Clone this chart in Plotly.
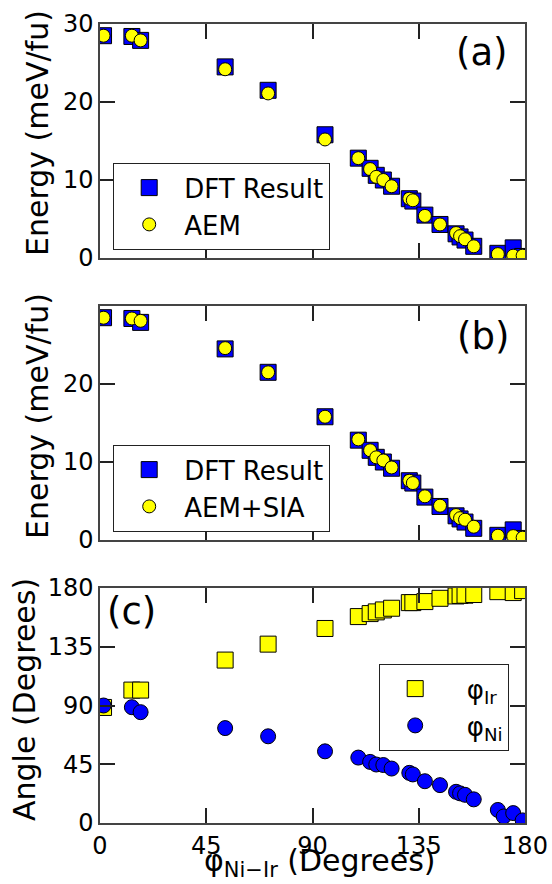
import plotly.graph_objects as go

# ---------------- data ----------------
phi = [1.5, 13.5, 17.2, 53.0, 71.2, 95.3, 109.4, 114.4, 117.0, 120.0, 123.5,
       131.0, 132.5, 137.6, 144.0, 150.8, 152.5, 154.6, 158.3, 168.5, 175.0, 179.0]
dft = [28.5, 28.4, 27.9, 24.5, 21.5, 15.8, 12.8, 11.5, 10.6, 10.0, 9.2,
       7.6, 7.3, 5.5, 4.3, 3.1, 2.7, 2.3, 1.5, 0.6, 1.3, 0.2]
aem = [28.5, 28.5, 27.9, 24.2, 21.1, 15.2, 12.8, 11.4, 10.4, 10.0, 9.2,
       7.6, 7.4, 5.4, 4.3, 3.2, 2.8, 2.4, 1.5, 0.5, 0.3, 0.3]
aem_sia = [28.5, 28.4, 28.1, 24.6, 21.5, 15.8, 12.9, 11.5, 10.6, 10.2, 9.3,
           7.6, 7.3, 5.6, 4.4, 3.2, 2.8, 2.6, 1.7, 0.55, 0.5, 0.3]

phi_ir = [88.5, 101.8, 101.8, 124.8, 137.0, 149.0, 158.1, 160.4, 161.7, 163.2, 164.5,
          168.8, 168.8, 169.6, 172.1, 173.9, 174.3, 174.5, 175.0, 177.2, 176.5, 178.0]
phi_ni_x = [1.5, 13.5, 17.2, 53.0, 71.2, 95.3, 109.4, 114.4, 117.0, 120.0, 123.5,
            131.0, 132.5, 137.6, 144.0, 150.8, 152.5, 154.6, 158.3, 168.5, 171.0, 175.0, 179.0]
phi_ni = [90.0, 88.7, 84.9, 72.7, 66.4, 54.9, 50.1, 46.8, 44.8, 44.4, 41.7,
          38.4, 37.2, 32.0, 29.0, 23.9, 22.7, 21.6, 18.1, 10.0, 5.0, 7.6, 2.0]

x_ticks = [0, 45, 90, 135, 180]
e_ticks = [0, 10, 20, 30]
e_ticks_b = ["0", "10", "20", ""]
a_ticks = [0, 45, 90, 135, 180]

# ---------------- style ----------------
W, H = 552, 884
FONT = "DejaVu Sans"
BLUE = "#0000ff"
YELLOW = "#ffff00"
SP = "\u00a0\u00a0"

fig = go.Figure()

def sq(x, y, name, xa, ya, leg, color, size=16):
    return go.Scatter(x=x, y=y, mode="markers", name=name, xaxis=xa, yaxis=ya, legend=leg,
                      marker=dict(symbol="square", size=size, color=color,
                                  line=dict(color="black", width=1)))

def ci(x, y, name, xa, ya, leg, color, size=13):
    return go.Scatter(x=x, y=y, mode="markers", name=name, xaxis=xa, yaxis=ya, legend=leg,
                      marker=dict(symbol="circle", size=size, color=color,
                                  line=dict(color="black", width=1)))

fig.add_trace(sq(phi, dft, "DFT Result", "x", "y", "legend", BLUE))
fig.add_trace(ci(phi, aem, "AEM", "x", "y", "legend", YELLOW))
fig.add_trace(sq(phi, dft, "DFT Result", "x2", "y2", "legend2", BLUE))
fig.add_trace(ci(phi, aem_sia, "AEM+SIA", "x2", "y2", "legend2", YELLOW))
fig.add_trace(sq(phi, phi_ir, SP + "φ<sub>Ir</sub>", "x3", "y3", "legend3", YELLOW, 16))
fig.add_trace(ci(phi_ni_x, phi_ni, SP + "φ<sub>Ni</sub>", "x3", "y3", "legend3", BLUE, 15))

axis = dict(showline=True, linecolor="#444", linewidth=1.5, mirror="ticks",
            ticks="inside", ticklen=15, tickwidth=1.5, tickcolor="#222",
            showgrid=False, zeroline=False, automargin=False,
            tickfont=dict(family=FONT, size=24, color="black"))

xd = [100 / W, 525 / W]
dom_a = [1 - 258 / H, 1 - 24 / H]
dom_b = [1 - 540 / H, 1 - 306 / H]
dom_c = [1 - 823 / H, 1 - 588 / H]

leg_common = dict(xanchor="left", yanchor="top", bordercolor="#222", borderwidth=1.2,
                  bgcolor="white", font=dict(family=FONT, size=26, color="black"),
                  itemwidth=60, tracegroupgap=0)

fig.update_layout(
    template="none",
    width=W, height=H, autosize=False,
    margin=dict(l=0, r=0, t=0, b=0, pad=0, autoexpand=False),
    paper_bgcolor="white", plot_bgcolor="white",
    font=dict(family=FONT, color="black"),
    xaxis=dict(axis, domain=xd, anchor="y", range=[0, 180], tickvals=x_ticks, showticklabels=False),
    yaxis=dict(axis, domain=dom_a, anchor="x", range=[0, 30], tickvals=e_ticks),
    xaxis2=dict(axis, domain=xd, anchor="y2", range=[0, 180], tickvals=x_ticks, showticklabels=False),
    yaxis2=dict(axis, domain=dom_b, anchor="x2", range=[0, 30], tickvals=e_ticks, ticktext=e_ticks_b),
    xaxis3=dict(axis, domain=xd, anchor="y3", range=[0, 180], tickvals=x_ticks),
    yaxis3=dict(axis, domain=dom_c, anchor="x3", range=[0, 180], tickvals=a_ticks),
    legend=dict(leg_common, x=113 / W, y=1 - 163 / H),
    legend2=dict(leg_common, x=113 / W, y=1 - 445 / H),
    legend3=dict(leg_common, x=379 / W, y=1 - 664 / H),
)

ann = []
def txt(text, x, y, size, angle=0):
    ann.append(dict(text=text, x=x / W, y=1 - y / H, xref="paper", yref="paper",
                    showarrow=False, textangle=angle, xanchor="center", yanchor="middle",
                    font=dict(family=FONT, size=size, color="black")))

txt("Energy (meV/fu)", 37, 133, 30, -90)
txt("Energy (meV/fu)", 37, 416, 30, -90)
txt("Angle (Degrees)", 24, 700, 30, -90)
txt("φ<sub>Ni−Ir</sub> (Degrees)", 320, 862, 30)
txt("(a)", 482, 52, 37)
txt("(b)", 483, 336, 37)
txt("(c)", 131, 611, 37)
fig.update_layout(annotations=ann)

fig.write_html("out.html",
               post_script="document.body.style.margin='0';document.body.style.overflow='hidden';")
